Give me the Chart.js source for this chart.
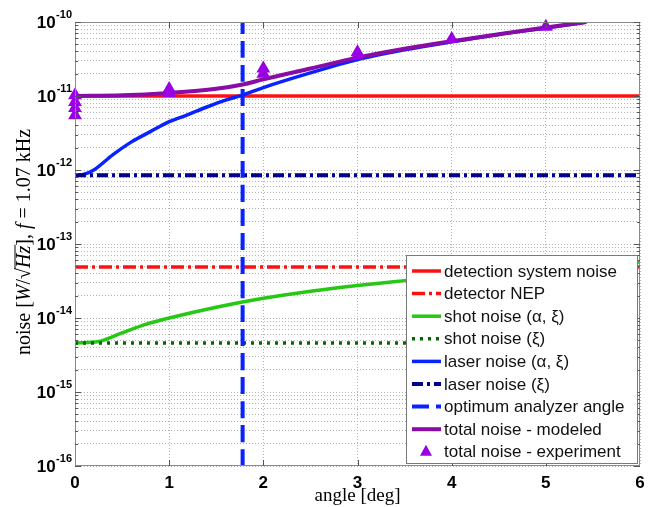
<!DOCTYPE html>
<html>
<head>
<meta charset="utf-8">
<script src="https://cdn.jsdelivr.net/npm/chart.js@4.4.1/dist/chart.umd.min.js"></script>
<style>
  body { margin: 0; background: #fff; }
  canvas { display: block; }
</style>
</head>
<body>
<canvas id="noise-chart" width="654" height="507"></canvas>
<script>
// values (angle in deg, noise in W/sqrt(Hz))
const flatAngles = [0, 6];
const detectionNoise = [1.0e-11, 1.0e-11];
const detectorNEP = [4.9e-14, 4.9e-14];
const shotNoiseXi = [4.6e-15, 4.6e-15];
const laserNoiseXi = [8.5e-13, 8.5e-13];

const shotAngles = [0, 0.25, 0.5, 0.75, 1, 1.5, 2, 2.5, 3, 3.5, 4, 4.5, 5, 5.5, 6];
const shotNoise = [4.6e-15, 4.8e-15, 6.3e-15, 8.2e-15, 1.0e-14, 1.4e-14, 1.85e-14, 2.3e-14,
                   2.75e-14, 3.2e-14, 3.7e-14, 4.2e-14, 4.7e-14, 5.2e-14, 5.7e-14];

const laserAngles = [0, 0.1, 0.2, 0.4, 0.6, 0.8, 1.0, 1.2, 1.4, 1.6, 1.78, 2.0, 2.5, 3.0, 3.5, 4.0, 4.5, 5.0, 5.43];
const laserNoise = [8.5e-13, 8.8e-13, 1.0e-12, 1.6e-12, 2.4e-12, 3.3e-12, 4.5e-12, 5.6e-12, 7.1e-12, 8.8e-12,
                    1.03e-11, 1.3e-11, 2.05e-11, 3.1e-11, 4.2e-11, 5.4e-11, 6.8e-11, 8.3e-11, 1.0e-10];

const totalAngles = [0, 0.5, 1.0, 1.5, 1.78, 2.0, 2.5, 3.0, 3.5, 4.0, 4.5, 5.0, 5.43];
const totalNoise = [1.0e-11, 1.02e-11, 1.1e-11, 1.25e-11, 1.43e-11, 1.68e-11, 2.35e-11, 3.3e-11,
                    4.35e-11, 5.5e-11, 6.85e-11, 8.4e-11, 1.0e-10];

const optimumAngle = [1.78, 1.78];
const optimumRange = [1e-16, 1e-10];

const expAngles = [0, 0, 0, 0, 1, 1, 2, 2, 3, 3, 4, 5];
const expNoise = [1.02e-11, 8.3e-12, 6.9e-12, 5.5e-12, 1.24e-11, 1.1e-11, 2.35e-11, 2.0e-11,
                  3.9e-11, 3.5e-11, 5.9e-11, 8.6e-11];

const yTickExponents = [-16, -15, -14, -13, -12, -11, -10];

const pts = (xs, ys) => xs.map((x, i) => ({ x: x, y: ys[i] }));

// grid positions 1..9 per decade, like matlab's minor log grid
const yGridValues = [];
for (let e = -16; e < -10; e++) {
    for (let m = 1; m <= 9; m++) yGridValues.push(m * Math.pow(10, e));
}
yGridValues.push(1e-10);

const lineSet = (label, xs, ys, color, dash, width, order) => ({
    label: label,
    data: pts(xs, ys),
    showLine: true,
    borderColor: color,
    backgroundColor: color,
    borderWidth: width,
    borderDash: dash,
    pointRadius: 0,
    cubicInterpolationMode: 'monotone',
    order: order
});

const datasets = [
    lineSet('detection system noise', flatAngles, detectionNoise, '#ff1010', [], 3.5, 8),
    lineSet('detector NEP', flatAngles, detectorNEP, '#ff1010', [13, 4, 3, 4], 3.5, 7),
    lineSet('shot noise (\u03b1, \u03be)', shotAngles, shotNoise, '#26c814', [], 3.5, 6),
    lineSet('shot noise (\u03be)', flatAngles, shotNoiseXi, '#006a00', [3, 5], 3.5, 5),
    lineSet('laser noise (\u03b1, \u03be)', laserAngles, laserNoise, '#0a22ff', [], 3.5, 4),
    lineSet('laser noise (\u03be)', flatAngles, laserNoiseXi, '#000090', [11, 4, 3, 4], 4, 3),
    lineSet('optimum analyzer angle', optimumAngle, optimumRange, '#0a22ff', [17, 7], 4, 2),
    lineSet('total noise - modeled', totalAngles, totalNoise, '#8a0ca6', [], 4, 1),
    {
        label: 'total noise - experiment',
        data: pts(expAngles, expNoise),
        showLine: false,
        pointStyle: 'triangle',
        pointRadius: 8,
        borderWidth: 0,
        backgroundColor: '#9a00e4',
        borderColor: '#9a00e4',
        clip: false,
        order: 0
    }
];

const frame = {
    id: 'frame',
    afterDraw(chart) {
        const ctx = chart.ctx;
        const a = chart.chartArea;
        const y = chart.scales.y;
        const x = chart.scales.x;
        ctx.save();
        ctx.strokeStyle = '#8a8a8a';
        ctx.lineWidth = 1;
        ctx.strokeRect(a.left + 0.5, a.top + 0.5, a.right - a.left - 1, a.bottom - a.top - 1);
        // inward tick marks
        ctx.strokeStyle = '#555';
        ctx.beginPath();
        yGridValues.forEach(v => {
            const py = Math.round(y.getPixelForValue(v)) + 0.5;
            const len = Math.abs(Math.log10(v) - Math.round(Math.log10(v))) < 1e-6 ? 6 : 3;
            ctx.moveTo(a.left, py); ctx.lineTo(a.left + len, py);
            ctx.moveTo(a.right, py); ctx.lineTo(a.right - len, py);
        });
        for (let t = 1; t < 6; t++) {
            const px = Math.round(x.getPixelForValue(t)) + 0.5;
            ctx.moveTo(px, a.bottom); ctx.lineTo(px, a.bottom - 6);
            ctx.moveTo(px, a.top); ctx.lineTo(px, a.top + 6);
        }
        ctx.stroke();
        ctx.restore();
    }
};

const yLabels = {
    id: 'yLabels',
    afterDraw(chart) {
        const ctx = chart.ctx;
        const y = chart.scales.y;
        ctx.save();
        ctx.fillStyle = '#000';
        ctx.textBaseline = 'middle';
        yTickExponents.forEach(e => {
            const py = y.getPixelForValue(Math.pow(10, e));
            const sup = String(e);
            ctx.font = 'bold 11px "Liberation Sans"';
            const supW = ctx.measureText(sup).width;
            const right = 72;
            ctx.textAlign = 'left';
            ctx.fillText(sup, right - supW, py - 7);
            ctx.font = 'bold 17px "Liberation Sans"';
            ctx.textAlign = 'right';
            ctx.fillText('10', right - supW - 0.5, py + 1);
        });
        ctx.restore();
    }
};

const yTitle = {
    id: 'yTitle',
    afterDraw(chart) {
        const ctx = chart.ctx;
        const a = chart.chartArea;
        const size = 20;
        const roman = size + 'px "Liberation Serif"';
        const italic = 'italic ' + size + 'px "Liberation Serif"';
        const parts = [
            { t: 'noise [', f: roman },
            { t: 'W', f: italic },
            { t: '/\u221a', f: roman },
            { t: 'Hz', f: italic, over: true },
            { t: '], ', f: roman },
            { t: 'f', f: italic },
            { t: ' = 1.07 kHz', f: roman }
        ];
        ctx.save();
        let total = 0;
        parts.forEach(p => { ctx.font = p.f; p.w = ctx.measureText(p.t).width; total += p.w; });
        ctx.translate(25, (a.top + a.bottom) / 2 - 2);
        ctx.rotate(-Math.PI / 2);
        ctx.fillStyle = '#000';
        ctx.strokeStyle = '#000';
        ctx.textBaseline = 'middle';
        ctx.textAlign = 'left';
        let cx = -total / 2;
        parts.forEach(p => {
            ctx.font = p.f;
            ctx.fillText(p.t, cx, 0);
            if (p.over) {
                ctx.lineWidth = 1;
                ctx.beginPath();
                ctx.moveTo(cx - 1, -size * 0.5);
                ctx.lineTo(cx + p.w + 1, -size * 0.5);
                ctx.stroke();
            }
            cx += p.w;
        });
        ctx.restore();
    }
};

const boxLegend = {
    id: 'boxLegend',
    afterDraw(chart) {
        const ctx = chart.ctx;
        const left = 406, top = 255, width = 231, height = 208;
        const rowGap = 22.6, firstRow = 271;
        ctx.save();
        ctx.fillStyle = '#fff';
        ctx.fillRect(left, top, width, height);
        ctx.strokeStyle = '#7a7a7a';
        ctx.lineWidth = 1;
        ctx.strokeRect(left + 0.5, top + 0.5, width, height);
        ctx.font = '17px "Liberation Sans"';
        ctx.textBaseline = 'middle';
        chart.data.datasets.forEach((ds, i) => {
            const cy = firstRow + i * rowGap;
            if (ds.showLine) {
                ctx.strokeStyle = ds.borderColor;
                ctx.lineWidth = ds.borderWidth;
                ctx.setLineDash(ds.borderDash);
                ctx.beginPath();
                ctx.moveTo(412, cy);
                ctx.lineTo(441, cy);
                ctx.stroke();
                ctx.setLineDash([]);
            } else {
                ctx.fillStyle = ds.backgroundColor;
                ctx.beginPath();
                ctx.moveTo(426, cy - 7);
                ctx.lineTo(432, cy + 4);
                ctx.lineTo(420, cy + 4);
                ctx.closePath();
                ctx.fill();
            }
            ctx.fillStyle = '#111';
            ctx.fillText(ds.label, 444, cy + 1);
        });
        ctx.restore();
    }
};

new Chart('noise-chart', {
    type: 'scatter',
    data: { datasets: datasets },
    options: {
        responsive: false,
        animation: false,
        devicePixelRatio: 1,
        layout: { padding: { left: 0, right: 14, top: 22, bottom: 0 } },
        plugins: {
            legend: { display: false },
            tooltip: { enabled: false }
        },
        scales: {
            x: {
                type: 'linear',
                min: 0,
                max: 6,
                ticks: {
                    stepSize: 1,
                    padding: 7,
                    color: '#000',
                    font: { family: 'Liberation Sans', size: 17, weight: 'bold' }
                },
                grid: { color: '#b4b4b4', lineWidth: 1, drawTicks: false },
                border: { display: false, dash: [1, 2] },
                title: {
                    display: true,
                    text: 'angle [deg]',
                    color: '#000',
                    padding: 0,
                    font: { family: 'Liberation Serif', size: 19 }
                },
                afterFit: s => { s.height = 41; }
            },
            y: {
                type: 'logarithmic',
                min: 1e-16,
                max: 1e-10,
                afterBuildTicks: s => { s.ticks = yGridValues.map(v => ({ value: v })); },
                ticks: { display: false },
                grid: { color: '#b4b4b4', lineWidth: 1, drawTicks: false },
                border: { display: false, dash: [1, 2] },
                afterFit: s => { s.width = 75; }
            }
        }
    },
    plugins: [frame, boxLegend, yLabels, yTitle]
});
</script>
</body>
</html>
